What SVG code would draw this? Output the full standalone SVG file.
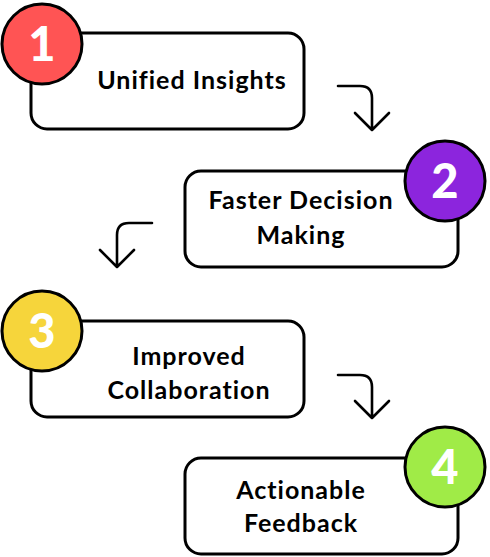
<svg xmlns="http://www.w3.org/2000/svg" width="490" height="557" viewBox="0 0 490 557">
<style>
.box{fill:#fff;stroke:#000;stroke-width:3}
.badge{stroke:#000;stroke-width:3}
.num{font-family:"Lato","Open Sans",sans-serif;font-weight:900;font-size:47px;fill:#fff;text-anchor:middle}
.lbl{font-family:"Lato","Open Sans",sans-serif;font-weight:700;font-size:25px;letter-spacing:1px;font-variant-ligatures:none;fill:#000;text-anchor:middle}
.arr{fill:none;stroke:#000;stroke-width:2.6;stroke-linecap:round;stroke-linejoin:round}
</style>
<rect width="490" height="557" fill="#fff"/>
<g id="connectors">
<path class="arr" d="M338 86 H360 Q372 86 372 98 V130 M355 113 L372 130 L389 113"/>
<path class="arr" d="M152 223 H129 Q117 223 117 235 V267 M100 250 L117 267 L134 250"/>
<path class="arr" d="M338 375 H360 Q372 375 372 387 V418 M355 401 L372 418 L389 401"/>
</g>
<g id="node1">
<rect class="box" x="31" y="33" width="273" height="96" rx="16"/>
<circle class="badge" cx="42" cy="44" r="40" fill="#FF5454"/>
<text class="num" x="42" y="61">1</text>
<text class="lbl" x="192" y="89">Unified Insights</text>
</g>
<g id="node2">
<rect class="box" x="185" y="171" width="273" height="96" rx="16"/>
<circle class="badge" cx="445" cy="181" r="40" fill="#8C25DD"/>
<text class="num" x="445" y="198">2</text>
<text class="lbl" x="301" y="209">Faster Decision</text>
<text class="lbl" x="301" y="244">Making</text>
</g>
<g id="node3">
<rect class="box" x="31" y="321" width="273" height="96" rx="16"/>
<circle class="badge" cx="42" cy="331" r="40" fill="#F6D53B"/>
<text class="num" x="42" y="348">3</text>
<text class="lbl" x="189" y="365">Improved</text>
<text class="lbl" x="189" y="399">Collaboration</text>
</g>
<g id="node4">
<rect class="box" x="185" y="458" width="273" height="96" rx="16"/>
<circle class="badge" cx="445" cy="467" r="40" fill="#A0EB47"/>
<text class="num" x="445" y="484">4</text>
<text class="lbl" x="301" y="499">Actionable</text>
<text class="lbl" x="301" y="532">Feedback</text>
</g>
</svg>
